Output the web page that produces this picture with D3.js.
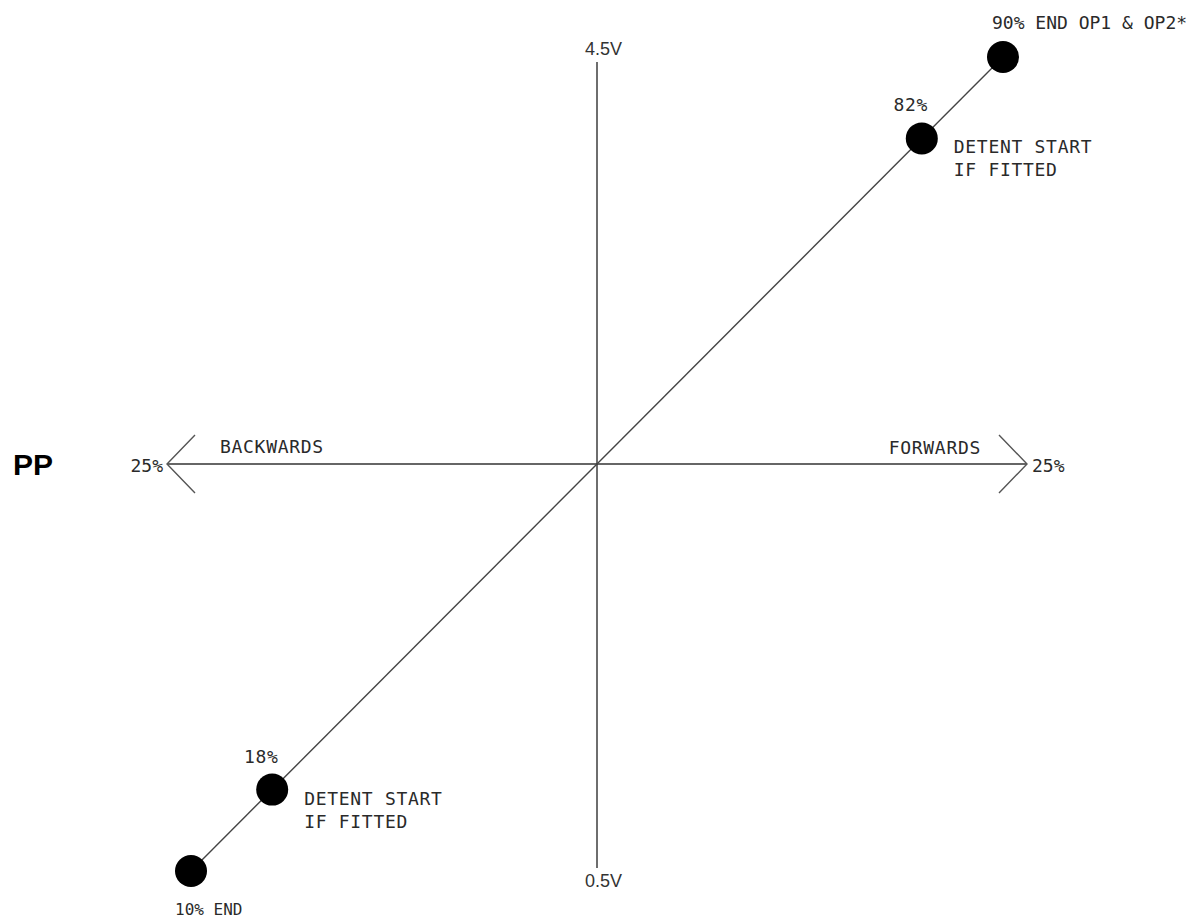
<!DOCTYPE html>
<html>
<head>
<meta charset="utf-8">
<script src="https://cdn.jsdelivr.net/npm/d3@7"></script>
<style>
	body { margin: 0; background: #fff; }
	svg { display: block; }
	.cad { font-family: "DejaVu Sans Mono", monospace; font-size: 18px; letter-spacing: 0.7px; fill: #2a2a2a; }
</style>
</head>
<body>
<div id="chart"></div>
<script>
"use strict";

// throttle travel (percent of full stroke) for the marked points
const throttlePct = [10, 18, 82, 90];
const pctLabels = ["10% END", "18%", "82%", "90% END OP1 & OP2*"];
const detentPct = [18, 82];
const detentText = ["DETENT START", "IF FITTED"];

// output voltage limits (vertical axis)
const voltLimits = [0.5, 4.5];
const voltLabels = ["0.5V", "4.5V"];

// horizontal travel axis
const travelLimits = [-25, 25];
const travelLabels = ["25%", "25%"];
const directionLabels = ["BACKWARDS", "FORWARDS"];
const sideLabel = "PP";

const WIDTH = 1197, HEIGHT = 924;

let svg = d3.select("#chart").append("svg")
	.attr("width", WIDTH)
	.attr("height", HEIGHT);

let x = d3.scaleLinear().domain([10, 90]).range([191, 1003]);
let y = d3.scaleLinear().domain([10, 90]).range([871, 57]);
let v = d3.scaleLinear().domain(voltLimits).range([868, 62]);
let h = d3.scaleLinear().domain(travelLimits).range([167, 1027]);

let cx = x(50), cy = y(50);

//vertical voltage axis
svg.append("line")
	.attr("x1", cx).attr("x2", cx)
	.attr("y1", v(voltLimits[0])).attr("y2", v(voltLimits[1]))
	.style("stroke", "#4a4a4a")
	.style("stroke-width", "1.6px");

//horizontal travel axis with open arrow heads
svg.append("line")
	.attr("x1", h(travelLimits[0])).attr("x2", h(travelLimits[1]))
	.attr("y1", cy).attr("y2", cy)
	.style("stroke", "#333")
	.style("stroke-width", "1.6px");

travelLimits.forEach(function (t) {
	let tip = h(t);
	let back = t < 0 ? 28 : -28;
	svg.append("path")
		.attr("d", "M" + (tip + back) + "," + (cy - 29) + " L" + tip + "," + cy + " L" + (tip + back) + "," + (cy + 29))
		.style("fill", "none")
		.style("stroke", "#555")
		.style("stroke-width", "1.4px");
});

//diagonal characteristic line
svg.append("line")
	.attr("x1", x(d3.min(throttlePct))).attr("y1", y(d3.min(throttlePct)))
	.attr("x2", x(d3.max(throttlePct))).attr("y2", y(d3.max(throttlePct)))
	.style("stroke", "#444")
	.style("stroke-width", "1.4px");

//points
svg.selectAll("circle.pt")
	.data(throttlePct)
	.enter()
	.append("circle")
	.attr("class", "pt")
	.attr("cx", function (d) { return x(d); })
	.attr("cy", function (d) { return y(d); })
	.attr("r", 16)
	.style("fill", "#000");

//percent labels
throttlePct.forEach(function (p, i) {
	let t = svg.append("text").attr("class", "cad").text(pctLabels[i]);
	if (i == 0) {
		t.attr("x", x(p) - 16).attr("y", y(p) + 44)
			.style("font-size", "16px").style("letter-spacing", "0px");
	} else if (i == throttlePct.length - 1) {
		t.attr("x", x(p) - 11).attr("y", y(p) - 28)
			.style("letter-spacing", "0px");
	} else {
		t.attr("x", x(p) - 11).attr("y", y(p) - 27)
			.attr("text-anchor", "middle");
	}
});

//detent notes
detentPct.forEach(function (p) {
	detentText.forEach(function (line, j) {
		svg.append("text")
			.attr("class", "cad")
			.attr("x", x(p) + 32)
			.attr("y", y(p) + 15 + j * 23)
			.text(line);
	});
});

//direction labels
svg.append("text").attr("class", "cad")
	.attr("x", h(travelLimits[0]) + 53).attr("y", cy - 11)
	.text(directionLabels[0]);
svg.append("text").attr("class", "cad")
	.attr("x", h(travelLimits[1]) - 46).attr("y", cy - 10)
	.attr("text-anchor", "end")
	.text(directionLabels[1]);

//travel end labels
travelLimits.forEach(function (t, i) {
	svg.append("text").attr("class", "cad")
		.attr("x", t < 0 ? h(t) - 4 : h(t) + 5)
		.attr("y", cy + 8)
		.attr("text-anchor", t < 0 ? "end" : "start")
		.style("letter-spacing", "0px")
		.text(travelLabels[i]);
});

//voltage labels
voltLimits.forEach(function (val, i) {
	svg.append("text")
		.attr("x", cx - 12)
		.attr("y", val == voltLimits[0] ? v(val) + 19 : v(val) - 7)
		.style("font-family", "'Liberation Sans', Arial, sans-serif")
		.style("font-size", "18px")
		.style("fill", "#333")
		.text(voltLabels[i]);
});

svg.append("text")
	.attr("x", 13)
	.attr("y", cy + 11)
	.style("font-family", "'Liberation Sans', Arial, sans-serif")
	.style("font-weight", "bold")
	.style("font-size", "30px")
	.style("fill", "#000")
	.text(sideLabel);
</script>
</body>
</html>
